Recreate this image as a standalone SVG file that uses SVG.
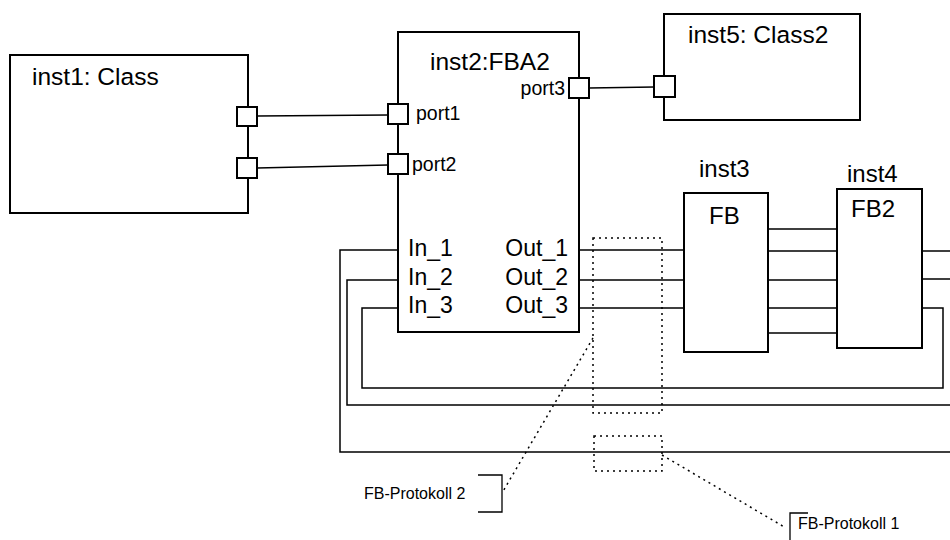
<svg xmlns="http://www.w3.org/2000/svg" width="950" height="540" viewBox="0 0 950 540">
<style>
.box{fill:#fff;stroke:#000;stroke-width:2}
.port{fill:#fff;stroke:#000;stroke-width:2}
.ln{fill:none;stroke:#000;stroke-width:1.5}
.dot{fill:none;stroke:#000;stroke-width:1.5;stroke-dasharray:2 4}
.br{fill:none;stroke:#000;stroke-width:1.3}
text{font-family:"Liberation Sans",Arial,sans-serif;fill:#000}
.t{font-size:23px}
.h{font-size:24.5px}
.f{font-size:24px}
.p{font-size:19.5px}
.s{font-size:16px}
</style>
<rect width="950" height="540" fill="#fff"/>
<g id="connectors">
<path class="ln" d="M257 116 L388 115"/>
<path class="ln" d="M257 168 L388 165"/>
<path class="ln" d="M589 88 L654 87"/>
<path class="ln" d="M398 250 H340 V452 H950"/>
<path class="ln" d="M398 280 H347 V405 H950"/>
<path class="ln" d="M398 308 H362 V388 H943 V308 H922"/>
<path class="ln" d="M579 250 H684 M579 280 H684 M579 308 H684"/>
<path class="ln" d="M768 229 H837 M768 251 H837 M768 280 H837 M768 308 H837 M768 333 H837"/>
<path class="ln" d="M922 251 H950 M922 279 H950"/>
</g>
<g id="inst1">
<rect class="box" x="10" y="55" width="238" height="158"/>
<text class="h" x="32" y="85">inst1: Class</text>
<rect class="port" x="237" y="107" width="20" height="19"/>
<rect class="port" x="237" y="158" width="20" height="20"/>
</g>
<g id="inst2">
<rect class="box" x="398" y="32" width="181" height="300"/>
<text class="h" x="430" y="70">inst2:FBA2</text>
<rect class="port" x="388" y="104" width="20" height="20"/>
<rect class="port" x="388" y="154" width="20" height="20"/>
<rect class="port" x="569" y="78" width="20" height="20"/>
<text class="p" x="416" y="120">port1</text>
<text class="p" x="412" y="171">port2</text>
<text class="p" x="565" y="95" text-anchor="end">port3</text>
<text class="t" x="408" y="256">In_1</text>
<text class="t" x="408" y="285">In_2</text>
<text class="t" x="408" y="313">In_3</text>
<text class="t" x="568" y="256" text-anchor="end">Out_1</text>
<text class="t" x="568" y="285" text-anchor="end">Out_2</text>
<text class="t" x="568" y="313" text-anchor="end">Out_3</text>
</g>
<g id="inst5">
<rect class="box" x="664" y="14" width="196" height="106"/>
<text class="h" x="688" y="43">inst5: Class2</text>
<rect class="port" x="654" y="76" width="21" height="21"/>
</g>
<g id="inst3">
<text class="f" x="699" y="177">inst3</text>
<rect class="box" x="684" y="193" width="84" height="159"/>
<text class="f" x="709" y="224">FB</text>
</g>
<g id="inst4">
<text class="f" x="847" y="182">inst4</text>
<rect class="box" x="837" y="189" width="85" height="159"/>
<text class="f" x="851" y="217">FB2</text>
</g>
<g id="protokoll2">
<rect class="dot" x="593" y="238" width="69" height="175"/>
<path class="dot" d="M593 338 L502 493"/>
<path class="br" d="M478 475 H502 V512 H478"/>
<text class="s" x="364" y="499">FB-Protokoll 2</text>
</g>
<g id="protokoll1">
<rect class="dot" x="594" y="436" width="68" height="35"/>
<path class="dot" d="M662 455 L786 528"/>
<path class="br" d="M808 513 H790 V540"/>
<text class="s" x="798" y="529">FB-Protokoll 1</text>
</g>
</svg>
